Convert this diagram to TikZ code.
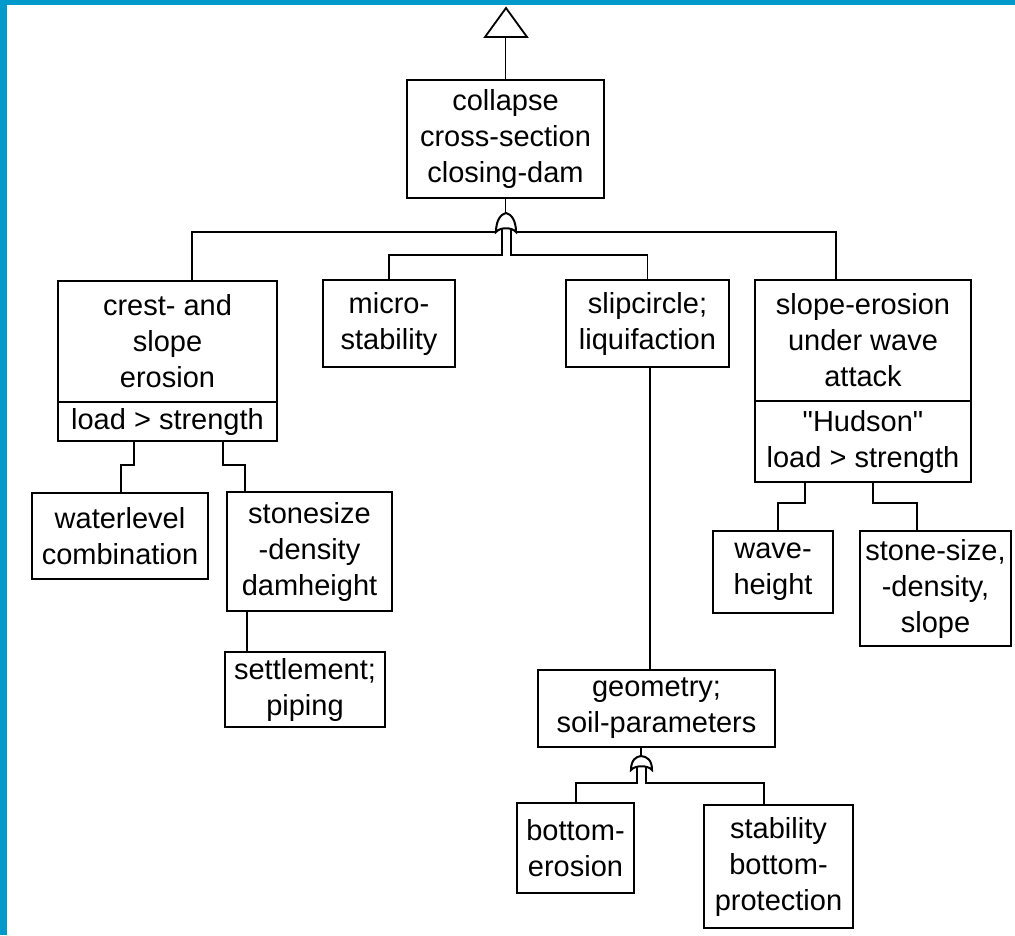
\documentclass[tikz,border=0pt]{standalone}
\usepackage{fontspec}
\setmainfont{Liberation Sans}
\definecolor{bandblue}{RGB}{0,153,204}
\newcommand\boxfont{\fontsize{29}{36}\selectfont}
\tikzset{
  box/.style={draw, line width=2.7pt, inner sep=0pt, align=center, font=\boxfont, rectangle},
  conn/.style={line width=1.5pt},
  gate/.style={line width=2pt, fill=white},
}
\begin{document}
\begin{tikzpicture}[x=1pt,y=-1pt]
\useasboundingbox (0,0) rectangle (1015,935);
\fill[white] (0,0) rectangle (1015,935);
\fill[bandblue] (0,0) rectangle (1015,5);
\fill[bandblue] (0,0) rectangle (7,935);

% boxes
\node[box, minimum width=197pt, minimum height=118pt] (top) at (505.5,139) {collapse\\cross-section\\closing-dam};
\node[box, minimum width=219pt, minimum height=121pt] (crest) at (167.5,341.5) {crest- and\\slope\\erosion};
\node[box, minimum width=219pt, minimum height=39pt] (crestL) at (167.5,421.5) {load > strength};
\node[box, minimum width=132pt, minimum height=87pt] (micro) at (389,323.5) {micro-\\stability};
\node[box, minimum width=163pt, minimum height=87pt] (slip) at (647.5,323.5) {slipcircle;\\liquifaction};
\node[box, minimum width=216pt, minimum height=121pt] (slope) at (863,340.5) {slope-erosion\\under wave\\attack};
\node[box, minimum width=216pt, minimum height=81pt] (hudson) at (863,441.5) {\textquotedbl Hudson\textquotedbl\\load > strength};
\node[box, minimum width=176pt, minimum height=86pt] (water) at (120,536) {waterlevel\\combination};
\node[box, minimum width=165pt, minimum height=119pt] (stone) at (309.5,551.5) {stonesize\\-density\\damheight};
\node[box, minimum width=160pt, minimum height=75pt] (settle) at (305,689.5) {settlement;\\piping};
\node[box, minimum width=120pt, minimum height=82pt] (wave) at (773,572) {wave-\\height};
\node[box, minimum width=151pt, minimum height=115pt] (stoneb) at (935.5,588.5) {stone-size,\\-density,\\slope};
\node[box, minimum width=237pt, minimum height=77pt] (geom) at (656.5,708.5) {geometry;\\soil-parameters};
\node[box, minimum width=117pt, minimum height=90pt] (berosion) at (575.5,848) {bottom-\\erosion};
\node[box, minimum width=149pt, minimum height=123pt] (stab) at (778.5,866.5) {stability\\bottom-\\protection};

% top triangle
\coordinate (triapex) at (506,8);
\coordinate (tribase) at (506,37);
\draw[line width=1.8pt, line join=miter] (triapex) -- (485,37) -- (527,37) -- cycle;
\draw[conn] (top.north) -- (top.north |- tribase);

% top OR gate
\coordinate (g1top) at (506,213);
\coordinate (g1l) at (496,232);
\coordinate (g1r) at (516,232);
\coordinate (crestin) at (192,281);
\coordinate (slopein) at (836,280);
\draw[conn] (top.south) -- (top.south |- g1top);
\draw[conn] (g1l) -| (crestin);
\draw[conn] (g1r) -| (slopein);
\draw[conn] (502,228) -- (502,255) -| (micro.north);
\draw[conn] (511,228) -- (511,255) -| (slip.north);
\draw[gate] (g1l) .. controls (496,220) and (501,214) .. (g1top)
  .. controls (511,214) and (516,220) .. (g1r)
  .. controls (512,227) and (500,227) .. (g1l) -- cycle;

% crest children
\coordinate (cl1) at (134,441);
\coordinate (cl2) at (223,441);
\coordinate (win) at (121,493);
\coordinate (sin) at (245,492);
\draw[conn] (cl1) -- (134,465) -| (win);
\draw[conn] (cl2) -- (223,465) -| (sin);
\coordinate (sout) at (247,611);
\coordinate (setin) at (247,652);
\draw[conn] (sout) -- (setin);

% slope children
\coordinate (hl1) at (805,482);
\coordinate (hl2) at (873,482);
\coordinate (wavein) at (778,531);
\coordinate (stonebin) at (917,531);
\draw[conn] (hl1) -- (805,503) -| (wavein);
\draw[conn] (hl2) -- (873,503) -| (stonebin);

% slip to geometry
\coordinate (slipout) at (650,367);
\coordinate (geomin) at (650,670);
\draw[conn] (slipout) -- (geomin);

% lower OR gate
\coordinate (g2top) at (641,756);
\coordinate (g2l) at (631,770);
\coordinate (g2r) at (652,770);
\coordinate (bein) at (576,803);
\coordinate (stabin) at (764,805);
\draw[conn] (641,747) -- (g2top);
\draw[conn] (637,766) -- (637,783) -| (bein);
\draw[conn] (646,766) -- (646,783) -| (stabin);
\draw[gate] (g2l) .. controls (631,760) and (636,756.5) .. (g2top)
  .. controls (647,756.5) and (652,760) .. (g2r)
  .. controls (648,765) and (635,765) .. (g2l) -- cycle;
\end{tikzpicture}
\end{document}
